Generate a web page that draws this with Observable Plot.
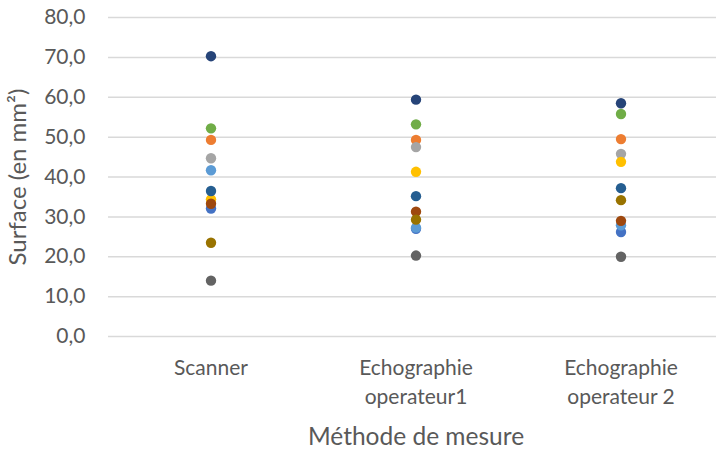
<!DOCTYPE html>
<html>
<head>
<meta charset="utf-8">
<script src="https://cdn.jsdelivr.net/npm/d3@7"></script>
<script src="https://cdn.jsdelivr.net/npm/@observablehq/plot@0.6"></script>
<style>
  html, body { margin: 0; padding: 0; background: #fff; }
  #chart svg { display: block; }
</style>
</head>
<body>
<div id="chart"></div>
<script>
// Categories (x axis)
const categories = ["Scanner", "Echographie\noperateur1", "Echographie\noperateur 2"];

// Series (one per subject), values per category: [Scanner, Echo op1, Echo op2]
const seriesNames = ["S1", "S2", "S3", "S4", "S5", "S6", "S7", "S8", "S9", "S10", "S11"];
const s1  = [32.1, 27.0, 26.2];
const s2  = [49.3, 49.3, 49.5];
const s3  = [44.7, 47.5, 45.8];
const s4  = [34.4, 41.3, 43.8];
const s5  = [41.7, 27.3, 27.9];
const s6  = [52.2, 53.2, 55.8];
const s7  = [70.3, 59.4, 58.5];
const s8  = [33.3, 31.3, 29.0];
const s9  = [14.0, 20.3, 20.0];
const s10 = [23.5, 29.3, 34.2];
const s11 = [36.5, 35.2, 37.2];
const seriesValues = [s1, s2, s3, s4, s5, s6, s7, s8, s9, s10, s11];
const seriesColors = ["#4472C4", "#ED7D31", "#A5A5A5", "#FFC000", "#5B9BD5", "#70AD47",
                      "#264478", "#9E480E", "#636363", "#997300", "#255E91"];

const yTicks = [0, 10, 20, 30, 40, 50, 60, 70, 80];
const yLabel = "Surface (en mm²)";
const xLabel = "Méthode de mesure";

const rows = [];
seriesNames.forEach((name, i) => {
  categories.forEach((c, j) => rows.push({series: name, category: c, value: seriesValues[i][j]}));
});

const font = "Lato, 'Open Sans', sans-serif";
const textColor = "#595959";

const chart = Plot.plot({
  width: 716,
  height: 452,
  marginLeft: 108,
  marginRight: -7,
  marginTop: 17,
  marginBottom: 116,
  style: {fontFamily: font, background: "#fff", color: textColor},
  x: {type: "band", domain: categories, padding: 0},
  y: {domain: [0, 80]},
  color: {domain: seriesNames, range: seriesColors},
  marks: [
    Plot.gridY(yTicks, {stroke: "#D9D9D9", strokeOpacity: 1, strokeWidth: 1.5}),
    Plot.axisY(yTicks, {
      tickSize: 0, tickPadding: 23, label: null,
      tickFormat: d => d.toFixed(1).replace(".", ","),
      fontSize: 21, fill: textColor
    }),
    Plot.axisX({
      tickSize: 0, tickPadding: 18, label: null,
      fontSize: 21, fill: textColor, lineHeight: 1.38
    }),
    Plot.dot(rows, {x: "category", y: "value", fill: "series", r: 5.2, stroke: null}),
    Plot.text([yLabel], {frameAnchor: "left", dx: -90, rotate: -90, text: d => d,
      fontSize: 24, fill: textColor, textAnchor: "middle", lineAnchor: "middle"}),
    Plot.text([xLabel], {frameAnchor: "bottom", dy: 101, text: d => d,
      fontSize: 24.5, fill: textColor, textAnchor: "middle", lineAnchor: "middle"})
  ]
});
document.getElementById("chart").appendChild(chart);
</script>
</body>
</html>
